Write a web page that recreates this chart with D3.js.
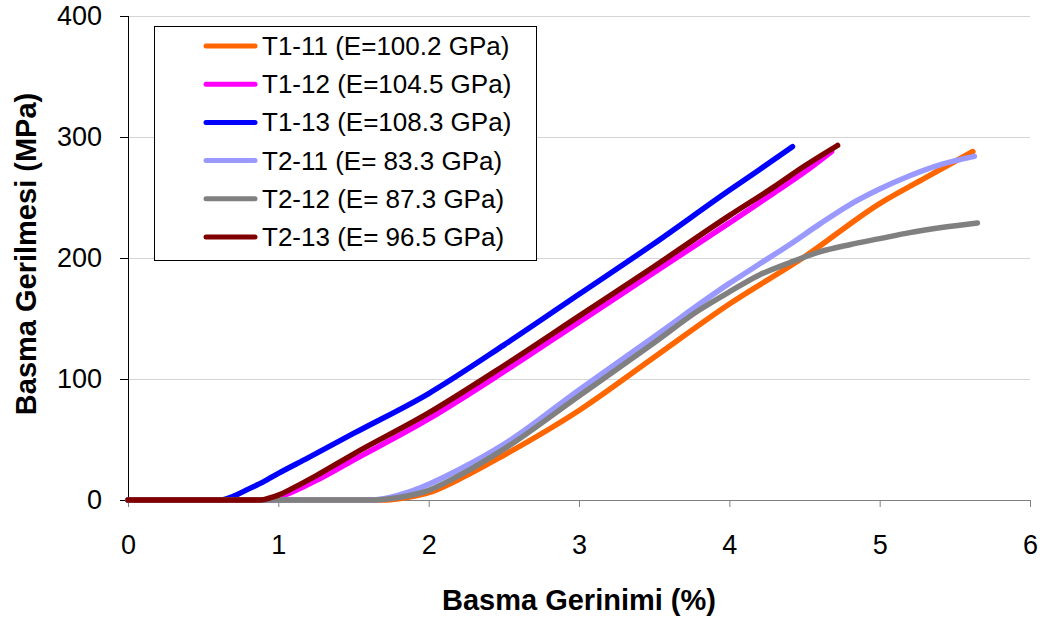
<!DOCTYPE html>
<html><head><meta charset="utf-8">
<script src="https://cdn.jsdelivr.net/npm/d3@7"></script>
<style>body{margin:0;background:#fff}svg{display:block}text{font-family:Arial,"Liberation Sans",sans-serif}</style>
</head><body><svg id="c" width="1042" height="622"></svg>
<script>
const seriesNames = ["T1-11 (E=100.2 GPa)","T1-12 (E=104.5 GPa)","T1-13 (E=108.3 GPa)","T2-11 (E= 83.3 GPa)","T2-12 (E= 87.3 GPa)","T2-13 (E= 96.5 GPa)"];
const seriesColors = ["#FF6600","#FF00FF","#0000FF","#9999FF","#808080","#800000"];
const t1_11 = [[0,0],[1.72,0],[1.8,1],[1.9,3],[2.0,6],[2.2,17],[2.5,37],[3.0,74],[3.5,118],[4.0,162],[4.5,201],[5.0,245],[5.3,266],[5.62,288]];
const t1_12 = [[0,0],[0.95,0],[1.0,2],[1.1,7],[1.25,16],[1.5,33],[2.0,67],[2.5,106],[3.0,147],[3.5,188],[4.0,229],[4.3,254],[4.5,271],[4.68,288]];
const t1_13 = [[0,0],[0.62,0],[0.7,3],[0.8,9],[0.9,15],[1.0,22],[1.2,35],[1.5,55],[2.0,88],[2.5,128],[3.0,170],[3.5,212],[4.0,256],[4.2,273],[4.42,292]];
const t2_11 = [[0,0],[1.6,0],[1.7,1],[1.8,4],[1.9,8],[2.0,13],[2.2,25],[2.5,46],[3.0,91],[3.5,135],[4.0,179],[4.2,195],[4.4,211],[4.6,228],[4.8,244],[5.0,257],[5.2,268],[5.4,277],[5.63,284]];
const t2_12 = [[0,0],[1.65,0],[1.8,2],[2.0,8],[2.2,20],[2.5,42],[3.0,86],[3.5,130],[3.8,157],[4.0,172],[4.2,186],[4.4,196],[4.6,205],[4.8,211],[5.0,216],[5.2,221],[5.4,225],[5.65,229]];
const t2_13 = [[0,0],[0.88,0],[0.95,2],[1.0,4],[1.1,10],[1.25,20],[1.5,38],[2.0,72],[2.5,111],[3.0,152],[3.5,193],[4.0,235],[4.3,259],[4.5,276],[4.72,293]];
const seriesData = [t1_11,t1_12,t1_13,t2_11,t2_12,t2_13];
const xTicks = [0,1,2,3,4,5,6];
const yTicks = [0,100,200,300,400];
const xTitle = "Basma Gerinimi (%)";
const yTitle = "Basma Gerilmesi (MPa)";

const svg = d3.select("#c");
const L=128,R=1030,T=16,B=500;
const x = d3.scaleLinear().domain([0,6]).range([L,R]);
const y = d3.scaleLinear().domain([0,400]).range([B,T]);
const FONT = "Arial,'Liberation Sans',sans-serif";

// gridlines
svg.append("g").selectAll("line").data(yTicks.filter(d=>d>0)).join("line")
  .attr("x1",L).attr("x2",R).attr("y1",d=>y(d)+0.5).attr("y2",d=>y(d)+0.5)
  .attr("stroke","#d4d4d4").attr("stroke-width",1);

// x axis
const xa = svg.append("g").attr("transform",`translate(0,${B})`)
  .call(d3.axisBottom(x).tickValues(xTicks).tickSize(7).tickPadding(28).tickFormat(d3.format("d")));
xa.select(".domain").attr("stroke","#808080").attr("d",`M${L-8},0.5H${R}`);
xa.selectAll(".tick line").attr("stroke","#808080");
xa.selectAll("text").attr("font-size",27).attr("fill","#000").attr("font-family",FONT);

// y axis
const ya = svg.append("g").attr("transform",`translate(${L},0)`)
  .call(d3.axisLeft(y).tickValues(yTicks).tickSize(8).tickPadding(18).tickFormat(d3.format("d")));
ya.select(".domain").attr("stroke","#000").attr("d",`M0.5,${T}V${B}`);
ya.selectAll(".tick line").attr("stroke","#000");
ya.selectAll("text").attr("font-size",27).attr("fill","#000").attr("font-family",FONT);

// lines
const line = d3.line().x(d=>x(d[0])).y(d=>y(d[1])).curve(d3.curveMonotoneX);
svg.append("g").selectAll("path").data(seriesData).join("path")
  .attr("d",line).attr("fill","none")
  .attr("stroke",(d,i)=>seriesColors[i]).attr("stroke-width",5.5)
  .attr("stroke-linecap","round").attr("stroke-linejoin","round");

// titles
svg.append("text").attr("x",579).attr("y",610).attr("text-anchor","middle")
  .attr("font-size",29).attr("font-weight","bold").text(xTitle);
svg.append("text").attr("transform",`translate(36,254) rotate(-90)`).attr("text-anchor","middle")
  .attr("font-size",29).attr("font-weight","bold").text(yTitle);

// legend
const lg = svg.append("g");
lg.append("rect").attr("x",154.5).attr("y",26.5).attr("width",382).attr("height",234)
  .attr("fill","#fff").attr("stroke","#000").attr("stroke-width",1);
seriesNames.forEach((n,i)=>{
  const yy = 46 + i*38.2;
  lg.append("line").attr("x1",206).attr("x2",255).attr("y1",yy).attr("y2",yy)
    .attr("stroke",seriesColors[i]).attr("stroke-width",5).attr("stroke-linecap","round");
  lg.append("text").attr("x",262).attr("y",yy+9).attr("font-size",26).text(n);
});
</script></body></html>
